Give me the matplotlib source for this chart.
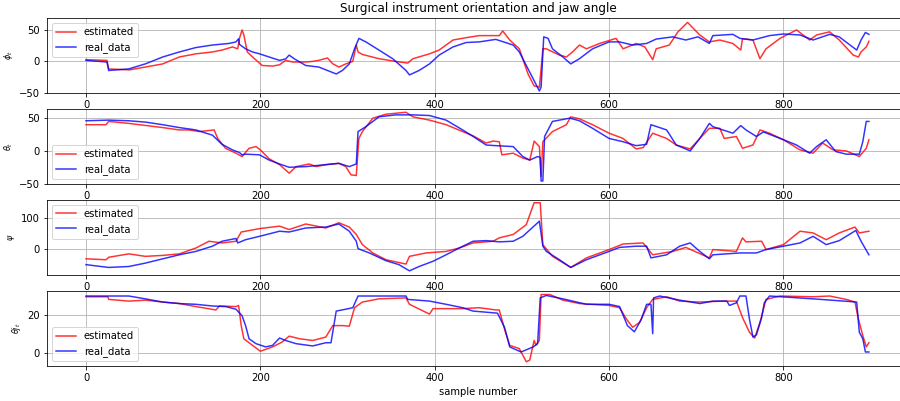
import numpy as np
import matplotlib
matplotlib.use("Agg")
import matplotlib.pyplot as plt

# ---- phi_t ----
phi_est_x = [0, 24, 26, 50, 68, 88, 107, 126, 145, 156, 168, 174, 176, 179, 181, 185, 191, 202, 214, 222,
             229, 237, 252, 260, 267, 277, 283, 290, 298, 306, 310, 312, 317, 336, 355, 369, 375, 394, 405,
             421, 436, 451, 474, 478, 486, 497, 507, 514, 520, 522, 524, 528, 543, 551, 558, 566, 574, 589,
             608, 616, 631, 641, 650, 654, 669, 679, 690, 704, 715, 727, 742, 751, 753, 765, 773, 780, 796,
             815, 830, 838, 853, 864, 880, 886, 889, 895, 898]
phi_est = [2.7, 1.6, -12, -13.5, -9, -4, 7, 12, 15, 18, 23, 20, 36.6, 50, 42, 15, 7, -6.5, -7.5, -5.4,
           1.6, -1, -1, 0, 1.6, 5.4, -3.8, -9, -4, 0, 26, 15, 11, 4.3, 0, -2.7, 4.3, 12, 18,
           34, 37.7, 41, 41, 48.4, 34, 20, -20, -39, -41, -12, 20, 20, 10, 7, 15, 26, 20, 28.5,
           36.6, 20, 28.5, 23, 2.7, 20, 26, 47, 62, 42, 31, 34, 28.5, 18, 36, 34, 4.3, 20, 36.6,
           50, 34, 42, 47, 34, 10, 7, 15, 23, 32]
phi_real_x = [0, 24, 26, 49, 68, 88, 107, 126, 145, 164, 172, 175, 176, 183, 191, 199, 210, 222, 229, 233,
              239, 252, 267, 287, 294, 302, 308, 313, 321, 336, 352, 367, 371, 382, 394, 405, 421, 436,
              451, 470, 490, 497, 505, 513, 520, 522, 525, 530, 535, 547, 556, 566, 581, 600, 612, 627,
              643, 654, 673, 688, 702, 715, 719, 742, 750, 765, 784, 800, 819, 834, 853, 864, 884, 889,
              894, 898]
phi_real = [1.6, -1, -14.5, -12, -4, 7, 15, 22, 26, 28.5, 31, 36, 27, 20, 15, 12, 7, 1.6, 4, 10,
            4, -6.5, -9, -20, -14.5, -4, 20, 36.6, 31, 18, 4, -14.5, -21.5, -14.5, -4, 10, 23, 30,
            31, 35, 26, 15, -6.5, -28, -47, -41, 39, 36.6, 20, 7, -4, 4.3, 20, 31, 31, 26,
            28.5, 35.5, 39, 34, 39, 28.5, 41, 43, 36.6, 34, 41, 43.6, 42, 34, 43, 39, 18, 34,
            46, 43]

# ---- theta_t ----
theta_est_x = [0, 23, 26, 49, 88, 107, 118, 130, 147, 151, 160, 172, 179, 187, 195, 200, 210, 222, 233,
               241, 256, 264, 275, 290, 298, 304, 310, 313, 317, 329, 344, 367, 375, 394, 413, 432, 444,
               459, 467, 474, 477, 490, 501, 509, 513, 514, 520, 522, 524, 535, 551, 556, 566, 581, 600,
               616, 631, 639, 650, 666, 677, 693, 704, 715, 727, 732, 746, 753, 765, 773, 784, 800, 819,
               834, 845, 857, 872, 887, 895, 898]
theta_est = [40, 40, 45, 42, 35.6, 32, 32, 29.5, 32, 19, 4, -3.5, -8.6, 4, 6.6, 1.5, -12, -21, -34,
             -24, -20, -24, -21, -19, -24, -36.6, -37.6, 19, 29.5, 50, 56, 59, 52, 47, 40, 29.5, 23,
             12, 15, 14, -6, -3.5, -11, -14, 9, 15, 6.6, -39, 14, 29.5, 40, 52, 49, 40, 27,
             19, 3, 5, 27, 19, 9, 3, 19, 34.5, 34.5, 19, 22, 4, 9, 32, 27, 17, 1.5,
             -3.5, 12, 1.5, 0, -8.6, 4, 17]
theta_real_x = [0, 26, 49, 68, 88, 107, 126, 145, 156, 168, 176, 179, 183, 199, 210, 222, 233, 252, 275,
                290, 302, 310, 312, 321, 336, 355, 375, 394, 413, 432, 444, 459, 470, 490, 501, 509, 518,
                521, 522, 524, 526, 535, 555, 566, 581, 600, 616, 631, 643, 648, 666, 677, 693, 704, 715,
                719, 742, 751, 757, 769, 777, 800, 815, 830, 838, 849, 860, 872, 887, 891, 895, 898]
theta_real = [46, 47, 46, 44, 40, 35.6, 32, 24, 10, 1.5, -2.5, -6, -5, -6, -14, -20, -25, -24, -21,
              -19, -24, -20, 29.5, 37, 52, 55, 55, 54, 47, 32, 22, 9, 8, 6.6, -8.6, -14, -8.6,
              -10, -46, -46, 22, 45, 50, 46, 34.5, 19, 14, 8, 10, 40, 32, 9, 0, 19, 42,
              37, 27, 38.6, 32, 22, 29, 17, 9, -3.5, 6.6, 17, -1, -5, -5, 14, 45, 45]

# ---- psi ----
psi_est_x = [0, 23, 26, 49, 68, 88, 107, 126, 141, 156, 172, 178, 199, 222, 233, 252, 275, 290, 302, 310,
             317, 329, 344, 367, 371, 390, 413, 428, 444, 467, 474, 490, 505, 514, 521, 524, 535, 556,
             574, 600, 616, 639, 650, 673, 688, 715, 719, 746, 753, 757, 775, 780, 800, 819, 834, 849,
             864, 882, 887, 898]
psi_est = [-33, -36, -28, -17, -25, -22, -17, 2, 24, 18.5, 24, 54, 65, 73, 62, 80, 67, 84, 70, 46,
           13, -14, -36, -50, -25, -14, -9, 2, 18.5, 24, 35, 46, 78, 149, 149, 13, -25, -61,
           -30, -3, 15, 18.5, -20, -9, 4, -30, -3, -9, 35, 22, 24, -3, 13, 56.5, 51, 29,
           51, 70, 51, 56.5]
psi_real_x = [0, 26, 49, 68, 88, 107, 126, 145, 156, 172, 174, 183, 199, 222, 233, 252, 275, 290, 302,
              310, 312, 325, 344, 359, 371, 382, 398, 413, 428, 444, 459, 474, 490, 501, 520, 524, 528,
              543, 556, 574, 600, 612, 631, 643, 648, 666, 681, 693, 704, 715, 719, 750, 769, 780, 800,
              819, 834, 849, 864, 883, 889, 898]
psi_real = [-52, -61, -58, -47, -33, -20, -9, 8, 24, 33, 18.5, 29, 40, 56.5, 54, 67, 70, 80, 56.5,
            24, 0, -14, -39, -52, -72, -58, -41, -20, 2, 24, 26, 22, 24, 40, 89, 8, -9,
            -36, -61, -36, -9, 4, 8, 8, -30, -20, 8, 18.5, -9, -33, -20, -14, -14, -3, 8,
            18.5, 40, 13, 26, 59, 24, -20]

# ---- theta j_t (jaw) ----
jaw_est_x = [0, 25, 26, 49, 68, 88, 107, 126, 149, 153, 172, 175, 178, 181, 191, 200, 214, 225, 233, 245,
             260, 275, 283, 294, 302, 308, 317, 336, 367, 371, 394, 398, 432, 451, 470, 474, 480, 486,
             497, 505, 509, 514, 516, 520, 522, 532, 547, 566, 600, 612, 620, 627, 635, 643, 650, 666,
             681, 704, 731, 746, 753, 761, 767, 773, 780, 796, 834, 853, 872, 882, 886, 891, 895, 898]
jaw_est = [29.6, 29.6, 28.2, 27.3, 27.8, 26.8, 26, 24.4, 22.6, 24.7, 24.4, 25, 14.3, 7.3, 3.8, 0.7, 3, 5.6, 8.7, 7.3,
           6.4, 8.2, 14.3, 14.3, 14, 23.8, 26.8, 28.5, 29, 25.6, 20.4, 23.3, 23.3, 23.8, 22.6, 22.6, 12.5, 3.8,
           2.1, -4.9, -4, 6.4, 4, 6.4, 30.8, 30.8, 27.8, 26, 25, 23.8, 17.7, 13.4, 16, 23.8, 28.2, 29.6,
           27.3, 26.8, 27.3, 27.3, 18.6, 10.8, 7.7, 16, 28.2, 30, 29.6, 30, 28.2, 26.8, 17.7, 9, 3, 5.2]
jaw_real_x = [0, 49, 68, 88, 107, 126, 145, 160, 172, 179, 183, 187, 195, 206, 214, 222, 229, 241, 260,
              275, 281, 287, 298, 306, 312, 367, 369, 394, 413, 432, 444, 472, 480, 486, 499, 513, 518,
              521, 528, 547, 574, 600, 612, 621, 629, 637, 643, 648, 650, 651, 658, 681, 704, 719, 735,
              738, 746, 750, 757, 761, 765, 769, 775, 778, 784, 834, 884, 887, 891, 894, 898]
jaw_real = [30, 30, 28.5, 26.8, 26, 25.6, 24.7, 24.4, 23, 19.5, 14.3, 7.3, 4.7, 3, 3.8, 7.7, 6.4, 4.7, 3.5,
            5.2, 5.2, 22, 23, 23.8, 30, 30, 28.2, 27.3, 25.6, 23.8, 22, 20.9, 13.4, 3, 0.3, 3, 4.7,
            29, 30.3, 28.5, 25.6, 25.6, 24.4, 14.3, 11, 17.7, 25.6, 25.6, 10, 29, 30, 27.8, 26, 27.3, 27.3,
            25, 26.4, 30, 30, 17.7, 8.2, 9.4, 18.6, 26.4, 30, 28.5, 26.8, 10.8, 7.3, 0.3, 0.3]

panels = [
    (phi_est_x, phi_est, phi_real_x, phi_real, r"$\phi_t$", "upper left", (-50.6, 69)),
    (theta_est_x, theta_est, theta_real_x, theta_real, r"$\theta_t$", "lower left", (-50.8, 64)),
    (psi_est_x, psi_est, psi_real_x, psi_real, r"$\psi$", "upper left", (-86, 158)),
    (jaw_est_x, jaw_est, jaw_real_x, jaw_real, r"$\theta j_t$", "lower left", (-7.2, 32.7)),
]

fig, axes = plt.subplots(4, 1, figsize=(12.5, 5.57), dpi=72)
fig.subplots_adjust(left=0.052, right=1.01, top=0.955, bottom=0.087, hspace=0.21)

for ax, (ex, ey, rx, ry, lab, loc, ylim) in zip(axes, panels):
    ax.plot(ex, ey, color="red", alpha=0.8, lw=1.5, label="estimated")
    ax.plot(rx, ry, color="blue", alpha=0.8, lw=1.5, label="real_data")
    ax.set_xlim(-45, 944)
    ax.set_ylim(*ylim)
    ax.set_ylabel(lab, fontsize=8)
    ax.grid(True)
    ax.legend(loc=loc)

axes[0].set_title("Surgical instrument orientation and jaw angle")
axes[-1].set_xlabel("sample number")

fig.savefig("out.png", dpi=72)
